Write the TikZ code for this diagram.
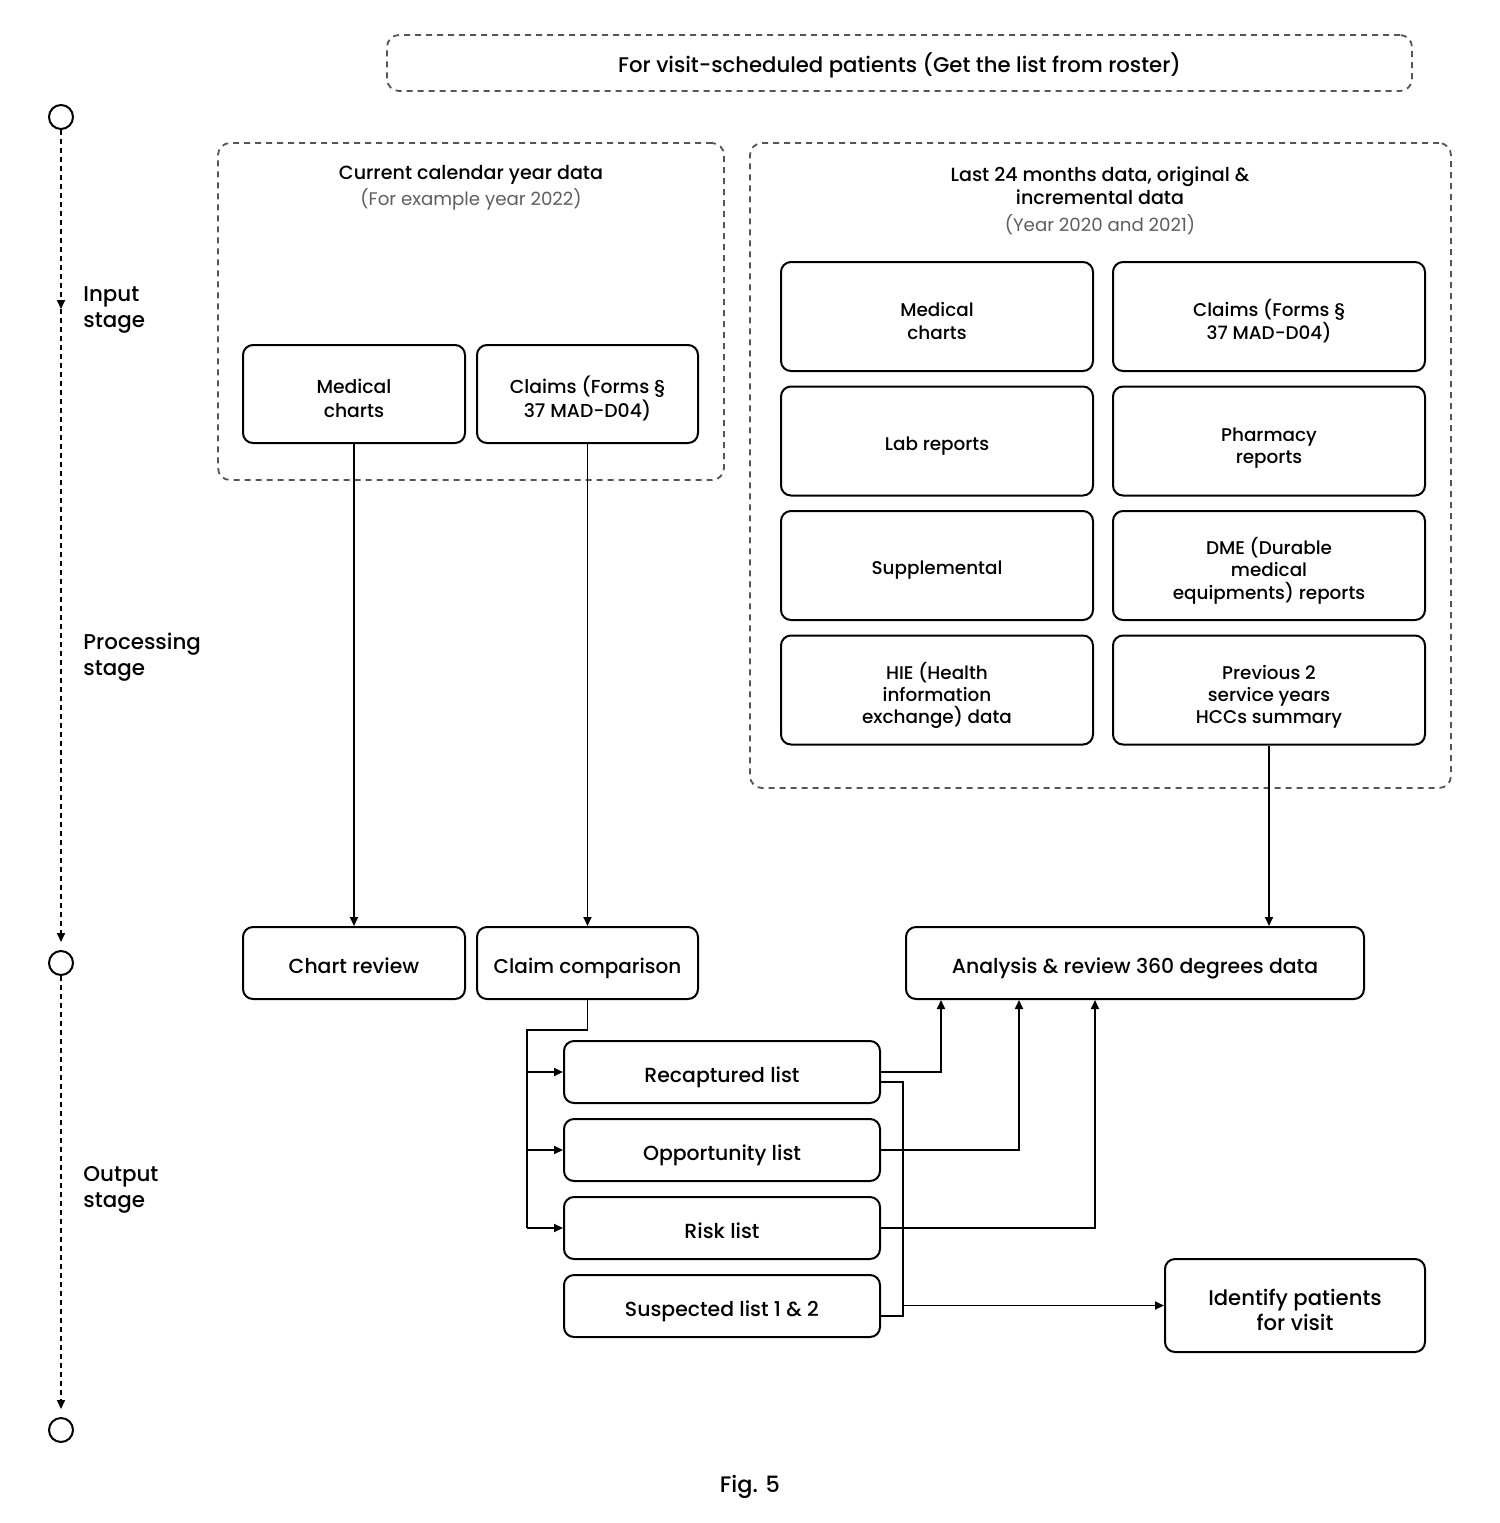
\documentclass[tikz,border=0pt]{standalone}
\usepackage{fontspec}
\setmainfont{Poppins Medium}
\newfontfamily\regfont{Poppins}
\usetikzlibrary{arrows.meta,calc}
\definecolor{subgray}{HTML}{5E5E5E}
\definecolor{dashgray}{HTML}{555555}
\newcommand\vs{\rule[-0.32em]{0pt}{1.64em}}
\newcommand\vsm{\rule{0pt}{\dimexpr1.32em+2.25pt\relax}}
\tikzset{
  txt/.style={align=center, inner sep=0pt, execute at begin node=\vs, execute at end node=\vs},
  box/.style={txt, draw=black, line width=1pt, rounded corners=5pt, font=\fontsize{9.4}{12}\selectfont},
  bigbox/.style={box, font=\fontsize{10.2}{12.5}\selectfont},
  frame/.style={draw=dashgray, line width=0.9pt, dash pattern=on 3pt off 2.5pt, rounded corners=6pt},
  arr/.style={line width=0.9pt, -{Triangle[length=4.5pt,width=4pt]}},
  conn/.style={line width=0.9pt},
  stagelbl/.style={txt, anchor=west, align=left, font=\fontsize{10.7}{13}\selectfont},
  dot/.style={circle, draw=black, line width=1pt, minimum size=12pt, inner sep=0pt},
  tline/.style={line width=0.8pt, dash pattern=on 2.5pt off 2pt},
}
\begin{document}
\begin{tikzpicture}[x=0.5pt,y=-0.5pt]
\useasboundingbox (0,0) rectangle (1500,1523);

% top frame
\node[frame, minimum width=512.5pt, minimum height=28pt] (top) at (899.5,63) {};
\node[txt, font=\fontsize{10.6}{12}\selectfont] (toptxt) at (899.5,62) {For visit-scheduled patients (Get the list from roster)};

% timeline
\node[dot] (c1) at (61,117) {};
\node[dot] (c2) at (61,963) {};
\node[dot] (c3) at (61,1430) {};
\coordinate (tm) at (61,309);
\draw[tline,-{Triangle[length=4.5pt,width=4pt]}] (c1) -- (tm);
\draw[tline,-{Triangle[length=4.5pt,width=4pt]}, shorten >=4pt] (tm) -- (c2);
\draw[tline,-{Triangle[length=4.5pt,width=4pt]}, shorten >=4pt] (c2) -- (c3);
\node[stagelbl] (l1) at (83,302) {\vsm Input\\stage};
\node[stagelbl] (l2) at (83,650) {\vsm Processing\\stage};
\node[stagelbl] (l3) at (83,1182) {\vsm Output\\stage};

% left frame
\node[frame, minimum width=253pt, minimum height=168.5pt] (fl) at (471,311.5) {};
\node[txt, font=\fontsize{9.55}{11.5}\selectfont] (tl1) at (471,170) {Current calendar year data};
\node[txt, font=\regfont\fontsize{9.1}{11.5}\selectfont, text=subgray] (tl2) at (471,196) {(For example year 2022)};
\node[box, minimum width=111pt, minimum height=49pt] (mcL) at (354,394) {\vsm Medical\\charts};
\node[box, minimum width=110.5pt, minimum height=49pt] (clL) at (587.5,394) {\vsm Claims (Forms §\\37 MAD-D04)};

% right frame
\node[frame, minimum width=350.5pt, minimum height=322.5pt] (fr) at (1100.5,465.5) {};
\node[txt, font=\fontsize{9.55}{11.5}\selectfont] (tr1) at (1100,181) {\vsm Last 24 months data, original \&\\incremental data};
\node[txt, font=\regfont\fontsize{9.1}{11.5}\selectfont, text=subgray] (tr2) at (1100,222) {(Year 2020 and 2021)};
\tikzset{gbox/.style={box, minimum width=156pt, minimum height=54.5pt, font=\fontsize{9.2}{11.2}\selectfont}}
\node[gbox] (g11) at (937,316.5) {\vsm Medical\\charts};
\node[gbox] (g12) at (1269,316.5) {\vsm Claims (Forms §\\37 MAD-D04)};
\node[gbox] (g21) at (937,441) {Lab reports};
\node[gbox] (g22) at (1269,441) {\vsm Pharmacy\\reports};
\node[gbox] (g31) at (937,565.5) {Supplemental};
\node[gbox] (g32) at (1269,565.5) {\vsm DME (Durable\\medical\\equipments) reports};
\node[gbox] (g41) at (937,690) {\vsm HIE (Health\\information\\exchange) data};
\node[gbox] (g42) at (1269,690) {\vsm Previous 2\\service years\\HCCs summary};

% processing
\node[bigbox, minimum width=111pt, minimum height=36pt] (cr) at (354,963) {Chart review};
\node[bigbox, minimum width=110.5pt, minimum height=36pt, font=\fontsize{10}{12.5}\selectfont] (cc) at (587.5,963) {Claim comparison};
\node[bigbox, minimum width=229pt, minimum height=36pt] (an) at (1135,963) {Analysis \& review 360 degrees data};

\draw[arr] (mcL) -- (cr);
\draw[arr] (clL) -- (cc);
\draw[arr] (g42.south) -- (g42.south |- an.north);

% lists
\tikzset{lbox/.style={bigbox, minimum width=158pt, minimum height=31pt}}
\node[lbox] (rec) at (722,1072) {Recaptured list};
\node[lbox] (opp) at (722,1150) {Opportunity list};
\node[lbox] (risk) at (722,1228) {Risk list};
\node[lbox] (sus) at (722,1306) {Suspected list 1 \& 2};
\node[bigbox, minimum width=130pt, minimum height=46.5pt, font=\fontsize{10.6}{12.5}\selectfont] (idp) at (1295,1305.5) {\vsm Identify patients\\for visit};

\coordinate (j1) at (527,1030);
\draw[conn] (cc.south) |- (j1) -- (j1 |- risk.west);
\draw[arr] (j1 |- rec.west) -- (rec.west);
\draw[arr] (j1 |- opp.west) -- (opp.west);
\draw[arr] (j1 |- risk.west) -- (risk.west);

\coordinate (x1) at (941,0);
\coordinate (x2) at (1019,0);
\coordinate (x3) at (1095,0);
\draw[arr] (rec.east) -| (an.south -| x1);
\draw[arr] (opp.east) -| (an.south -| x2);
\draw[arr] (risk.east) -| (an.south -| x3);

\coordinate (bx) at (903,0);
\coordinate (r1) at ([yshift=-5pt]rec.east);
\coordinate (s1) at ([yshift=-5pt]sus.east);
\draw[conn] (r1) -| (bx |- s1) -- (s1);
\draw[arr] (bx |- idp.west) -- (idp.west);

\node[txt, font=\fontsize{11.2}{13}\selectfont] (fig) at (750,1481) {Fig. 5};
\end{tikzpicture}
\end{document}
